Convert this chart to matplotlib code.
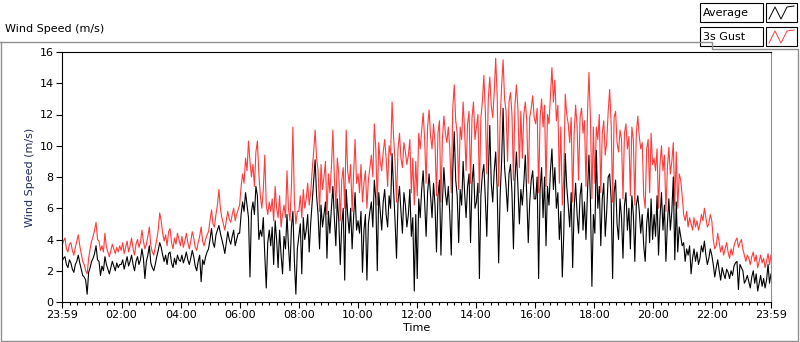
import matplotlib
matplotlib.use("Agg")
import matplotlib.pyplot as plt
from matplotlib.lines import Line2D
from matplotlib.patches import Rectangle
import numpy as np

# 3-minute samples from 23:59 to 23:59 (m/s)
gust = [
    3.6, 3.9, 4.1, 3.4, 3.2, 3.7, 3.8, 3.3, 3.0, 3.5, 3.9, 4.3, 3.6, 3.1, 2.6, 2.4, 2.0, 1.8, 2.8, 3.4,
    3.9, 4.2, 4.6, 5.1, 4.0, 3.9, 3.3, 3.6, 3.2, 4.4, 3.5, 3.2, 2.9, 3.3, 3.7, 3.4, 3.1, 3.5, 3.2, 3.6,
    3.3, 3.8, 3.1, 3.5, 3.9, 3.2, 3.6, 4.1, 3.4, 3.0, 3.7, 4.0, 3.5, 3.8, 4.6, 3.9, 3.4, 3.7, 4.2, 4.8,
    3.6, 3.2, 3.0, 3.5, 4.0, 4.6, 5.7, 5.2, 4.4, 3.9, 4.3, 3.6, 4.5, 4.7, 3.8, 3.4, 4.1, 3.7, 4.4, 4.0,
    3.6, 4.2, 3.5, 3.9, 4.4, 3.8, 3.4, 3.9, 4.5, 4.1, 3.5, 3.3, 3.8, 4.2, 4.8, 3.9, 3.6, 4.0, 4.3, 4.5,
    5.2, 5.9, 5.0, 4.8, 5.6, 6.2, 7.2, 6.0, 5.4, 5.0, 4.6, 5.2, 5.8, 5.3, 5.1, 5.6, 6.0, 5.2, 5.6, 5.9,
    6.2, 7.4, 8.2, 7.6, 9.2, 8.4, 10.3, 9.0, 8.0, 8.8, 7.4, 9.6, 10.3, 8.2, 6.8, 6.0, 7.2, 9.4, 6.2, 5.6,
    6.4, 5.8, 6.6, 5.2, 7.4, 6.0, 5.4, 6.8, 4.8, 5.6, 6.2, 5.4, 8.4, 6.0, 5.2, 7.4, 11.2, 6.4, 5.0, 5.8,
    5.8, 6.8, 5.4, 7.2, 6.0, 6.6, 7.6, 6.2, 7.0, 8.4, 9.6, 11.0, 9.2, 8.4, 5.8, 8.8, 7.2, 8.0, 9.0, 5.6,
    8.2, 7.0, 8.6, 11.0, 8.0, 6.0, 9.2, 8.2, 5.2, 7.8, 8.6, 6.0, 11.0, 8.4, 7.6, 8.8, 5.8, 8.2, 10.4, 7.6,
    8.2, 7.0, 8.8, 6.4, 7.6, 8.4, 6.0, 7.8, 8.6, 9.4, 8.0, 11.4, 9.8, 6.2, 10.2, 9.0, 8.4, 9.6, 10.4, 9.2,
    7.4, 10.0, 9.4, 12.8, 10.6, 9.0, 6.4, 9.8, 10.8, 9.2, 8.6, 10.2, 9.6, 8.8, 9.4, 10.4, 7.0, 9.2, 6.2, 9.0,
    6.8, 10.8, 9.8, 11.0, 12.1, 10.4, 7.6, 11.2, 12.3, 10.6, 9.8, 11.4, 10.2, 6.8, 10.8, 11.6, 6.4, 10.4, 11.9, 10.8,
    10.2, 11.2, 9.8, 7.0, 12.4, 13.9, 11.6, 10.8, 7.2, 11.2, 10.4, 12.8, 11.0, 8.4, 11.4, 12.2, 7.6, 11.8, 12.8, 10.4,
    11.2, 12.0, 7.0, 11.8, 12.8, 14.5, 12.2, 8.2, 13.0, 14.4, 12.6, 11.8, 13.4, 15.6, 13.2, 7.4, 11.6, 13.8, 15.5, 13.0,
    12.2, 9.0, 12.8, 13.4, 12.0, 7.8, 12.6, 13.9, 12.4, 8.6, 12.2, 9.2, 12.0, 12.8, 11.6, 7.6, 11.8, 12.4, 13.2, 11.8,
    11.4, 12.4, 7.0, 11.8, 13.0, 11.2, 12.6, 7.4, 12.0, 11.4, 13.2, 15.0, 12.8, 14.2, 11.6, 12.6, 7.6, 11.2, 6.2, 8.0,
    13.3, 12.0, 11.4, 10.2, 11.8, 6.4, 10.8, 12.6, 11.2, 7.8, 11.8, 12.4, 10.8, 11.6, 7.4, 12.0, 14.7, 11.8, 6.6, 11.2,
    7.6, 11.2, 10.4, 12.0, 7.0, 10.8, 11.6, 9.4, 10.2, 12.2, 13.6, 11.4, 6.4, 11.8, 12.2, 10.2, 9.6, 11.0, 10.4, 6.6,
    10.8, 11.4, 9.8, 10.6, 6.8, 11.2, 10.4, 6.2, 10.8, 11.9, 10.6, 9.8, 10.2, 6.8, 6.0, 9.8, 10.4, 7.0, 10.8, 8.8,
    9.2, 8.4, 9.8, 6.0, 8.8, 10.0, 8.4, 9.4, 5.8, 8.6, 9.9, 8.2, 9.0, 10.2, 6.2, 9.6, 6.0, 8.2, 7.8, 6.8,
    5.6, 5.2, 5.8, 4.8, 5.4, 5.0, 4.6, 5.4, 4.8, 5.2, 4.6, 5.0, 5.6, 5.2, 6.0, 5.4, 4.8, 5.0, 5.6, 5.2,
    4.0, 3.4, 3.6, 4.4, 3.8, 3.2, 3.6, 3.0, 3.4, 3.8, 3.2, 2.8, 3.4, 3.0, 3.6, 3.9, 4.1, 3.5, 3.8, 4.0,
    3.4, 3.0, 2.6, 3.0, 2.8, 2.4, 2.9, 3.2, 2.6, 3.0, 2.2, 2.6, 3.0, 2.5, 2.8, 2.2, 2.6, 3.1, 2.4, 3.0,
]
average = [
    2.6, 2.8, 2.9, 2.4, 2.2, 2.7, 2.5, 2.1, 1.9, 2.4, 2.6, 3.0, 2.5, 2.1, 1.7, 1.6, 1.4, 0.5, 1.9, 2.2,
    2.6, 2.8, 3.1, 3.6, 2.7, 2.6, 1.7, 2.3, 2.0, 2.9, 2.4, 2.1, 1.8, 2.2, 2.6, 2.3, 2.0, 2.5, 2.2, 2.4,
    2.4, 2.7, 2.1, 2.5, 2.9, 2.3, 2.6, 3.0, 2.4, 2.0, 2.6, 2.9, 2.4, 2.7, 3.4, 2.8, 1.5, 2.6, 3.0, 3.6,
    2.5, 2.2, 2.0, 2.4, 2.9, 3.3, 3.8, 3.5, 3.0, 2.6, 3.0, 2.4, 3.1, 3.2, 2.5, 2.2, 2.8, 2.4, 3.0, 2.7,
    2.6, 3.0, 2.5, 2.8, 3.2, 2.7, 2.4, 2.8, 3.3, 2.9, 2.3, 2.0, 2.6, 3.0, 1.3, 2.7, 2.4, 2.9, 3.2, 3.4,
    4.0, 4.7, 3.8, 3.5, 4.3, 4.6, 4.9, 4.4, 4.0, 3.6, 3.1, 3.8, 4.5, 4.0, 3.7, 4.2, 4.6, 3.6, 4.0, 4.4,
    4.4, 5.6, 6.4, 5.8, 7.0, 6.2, 5.4, 1.6, 5.8, 6.4, 5.6, 7.4, 6.8, 4.0, 4.6, 4.2, 5.4, 3.0, 0.9, 3.8,
    4.6, 3.6, 4.8, 2.4, 5.2, 4.0, 2.2, 4.6, 3.0, 1.8, 4.2, 3.4, 5.6, 3.6, 2.0, 4.8, 5.8, 2.6, 0.5, 3.4,
    4.2, 5.0, 1.8, 5.4, 4.0, 4.6, 5.6, 3.2, 5.0, 6.4, 7.8, 9.1, 6.8, 5.6, 3.4, 6.2, 4.8, 5.6, 6.4, 2.8,
    5.8, 4.4, 6.0, 7.4, 5.4, 3.6, 6.6, 5.2, 2.4, 5.0, 6.0, 1.4, 7.2, 5.6, 4.4, 6.0, 3.4, 5.4, 7.0, 4.6,
    5.2, 4.4, 5.8, 1.9, 4.6, 5.6, 1.4, 5.0, 5.8, 6.4, 4.8, 7.8, 6.6, 2.0, 7.0, 5.8, 4.6, 6.4, 7.2, 5.6,
    4.8, 6.8, 6.0, 9.5, 7.2, 5.2, 2.8, 6.4, 7.4, 5.8, 4.4, 7.0, 6.2, 4.8, 5.6, 7.2, 4.2, 5.4, 0.7, 5.6,
    1.5, 6.6, 5.4, 7.2, 8.4, 6.4, 4.2, 7.0, 8.2, 6.8, 5.4, 7.6, 6.2, 3.2, 6.8, 7.8, 3.0, 6.4, 8.6, 7.0,
    6.2, 7.4, 5.6, 3.0, 8.4, 10.9, 7.8, 6.8, 3.8, 7.2, 6.2, 9.0, 7.0, 5.4, 7.4, 8.2, 3.8, 7.6, 8.8, 6.0,
    6.4, 7.6, 1.5, 6.8, 8.2, 8.8, 6.6, 4.2, 8.0, 11.3, 7.6, 6.4, 8.4, 9.6, 7.2, 2.5, 6.8, 9.0, 12.4, 8.6,
    7.4, 5.8, 8.2, 8.8, 7.0, 3.4, 7.8, 9.6, 7.4, 5.0, 7.2, 6.2, 7.6, 9.4, 6.8, 3.8, 6.4, 7.8, 8.4, 6.6,
    6.6, 8.0, 1.5, 7.2, 8.6, 5.4, 8.0, 3.6, 7.4, 6.2, 8.4, 9.8, 7.2, 8.6, 6.0, 7.0, 4.0, 5.8, 1.6, 4.4,
    9.5, 7.4, 6.2, 4.8, 7.0, 2.2, 6.0, 7.6, 5.6, 4.4, 6.8, 7.6, 4.6, 6.4, 4.0, 7.0, 9.4, 6.6, 1.0, 5.6,
    4.4, 9.7, 6.0, 7.4, 3.6, 6.6, 7.6, 4.2, 5.8, 8.0, 8.2, 6.6, 1.5, 7.0, 7.8, 5.0, 4.0, 6.6, 5.4, 2.8,
    6.2, 7.0, 4.6, 6.0, 3.4, 6.8, 5.6, 2.6, 6.2, 6.8, 5.8, 4.4, 5.6, 3.6, 2.6, 5.0, 6.0, 3.8, 6.6, 4.0,
    5.6, 4.2, 6.8, 3.0, 5.4, 7.0, 4.6, 6.2, 2.6, 5.0, 6.6, 4.6, 5.8, 8.0, 2.7, 6.4, 3.2, 4.8, 4.2, 3.6,
    3.8, 2.6, 3.4, 3.0, 3.6, 1.8, 2.8, 3.4, 2.6, 3.2, 2.4, 2.8, 3.6, 3.2, 3.9, 3.0, 2.4, 2.8, 3.4, 3.0,
    2.4, 1.6, 2.2, 2.7, 2.0, 1.4, 2.2, 1.8, 1.5, 2.1, 1.9, 1.5, 2.0, 1.7, 2.3, 2.5, 2.6, 0.8, 2.4, 2.2,
    2.0, 1.2, 1.4, 1.7, 1.3, 0.9, 1.6, 2.0, 1.2, 1.8, 0.7, 1.2, 1.7, 1.0, 1.5, 0.9, 1.4, 2.4, 1.2, 1.8,
]

tick_pos = [0] + [h * 60 + 1 for h in range(2, 23, 2)] + [1440]   # minutes after 23:59
tick_labels = ["23:59"] + ["%02d:00" % h for h in range(2, 23, 2)] + ["23:59"]

W, H = 800, 342
fig = plt.figure(figsize=(W / 100, H / 100), dpi=100)
plt.rcParams["font.family"] = "DejaVu Sans"


def px(x, y):
    return x / W, 1 - y / H


ax = fig.add_axes([62 / W, 40 / H, 709 / W, 250 / H])
ax.plot(np.linspace(0, 1440, len(gust)), gust, color="#ff3b3b", lw=0.8)
ax.plot(np.linspace(0, 1440, len(average)), average, color="black", lw=0.8)

ax.set_xlim(0, 1440)
ax.set_ylim(0, 16)
ax.set_yticks(range(0, 17, 2))
ax.set_xticks(tick_pos)
ax.set_xticklabels(tick_labels)
ax.set_xticks(np.arange(16, 1440, 15), minor=True)
ax.tick_params(axis="both", which="major", labelsize=8, length=4, width=0.8, pad=2)
ax.tick_params(axis="x", which="minor", length=2.5, width=0.8)
ax.spines["right"].set_color("#909090")
ax.set_ylabel("Wind Speed (m/s)", fontsize=8, color="#1f2d5c", labelpad=3)
ax.set_xlabel("Time", fontsize=8, labelpad=2)

# outer panel frame
frame = Line2D([0, 712 / W, 712 / W, 798 / W, 798 / W, 1 / W, 1 / W],
               [1 - 42 / H, 1 - 42 / H, 1 - 49 / H, 1 - 49 / H, 1 / H, 1 / H, 1 - 42 / H],
               transform=fig.transFigure, color="#909090", lw=1)
fig.add_artist(frame)
fig.text(*px(5, 29), "Wind Speed (m/s)", fontsize=8, va="center", ha="left")

# legend boxes
for i, (name, col) in enumerate([("Average", "black"), ("3s Gust", "#ff3b3b")]):
    y0 = 3 + i * 24
    fig.add_artist(Rectangle(px(700, y0 + 19), 63 / W, 19 / H, transform=fig.transFigure,
                             fill=False, ec="black", lw=0.8))
    fig.add_artist(Rectangle(px(766, y0 + 19), 31 / W, 19 / H, transform=fig.transFigure,
                             fill=False, ec="black", lw=0.8))
    fig.text(*px(703, y0 + 10), name, fontsize=8, va="center", ha="left")
    zx = [769, 775, 781, 787, 794]
    zy = [y0 + 16, y0 + 4, y0 + 16, y0 + 4, y0 + 3]
    pts = [px(a, b) for a, b in zip(zx, zy)]
    fig.add_artist(Line2D([p[0] for p in pts], [p[1] for p in pts],
                          transform=fig.transFigure, color=col, lw=0.7))

fig.savefig("out.png", dpi=100)
